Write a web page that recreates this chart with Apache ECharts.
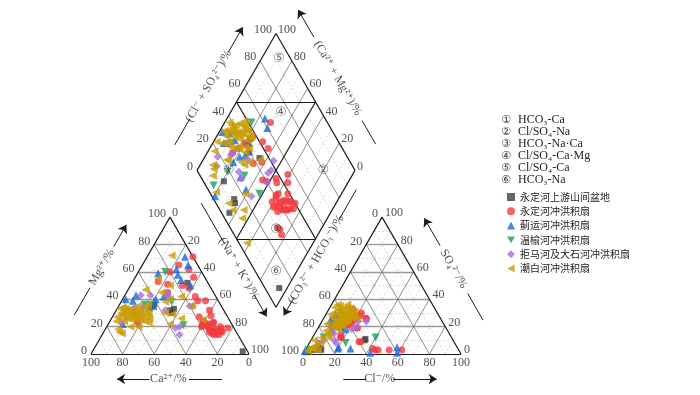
<!DOCTYPE html>
<html><head><meta charset="utf-8">
<script src="https://cdn.jsdelivr.net/npm/echarts@6/dist/echarts.min.js"></script>
<style>html,body{margin:0;padding:0;background:#fff}#c{width:700px;height:395px}</style>
</head><body><div id="c"></div>
<script>
// Each sample: [Mg2+ %, (Na+ + K+) %, SO4 2- %, Cl- %]  (Ca2+ and HCO3- are the remainders to 100)
const yongdingUpstream = [[52,35,10,34],[32,34,3,10],[33,36,5,7],[35,21,4,9],[30,36,2,3],[2,95,3,6],[36,22,11,34]];
const yongdingFan = [
 [17,68,24,18],[16,70,27,20],[18,66,20,16],[15,72,24,19],[14,74,28,22],[19,65,23,19],[17,71,27,21],[16,67,22,17],[18,73,25,20],[15,69,22,18],
 [14,71,24,18],[19,68,26,20],[20,64,22,18],[16,75,26,21],[23,66,25,19],[24,59,20,16],[22,62,20,15],[21,60,22,18],[22,63,21,16],
 [19,77,12,18],[17,74,14,17],[20,72,12,18],
 [71,29,3,61],[65,23,33,15],[62,31,30,22],[56,37,26,27],[48,38,19,25],[50,33,25,13],[39,48,9,31],[39,53,3,44],[32,59,3,53],[27,55,4,42],
 [24,59,9,32],[23,66,3,46],[23,18,26,8],[53,16,20,9],[51,23,27,14],[45,26,24,15],[60,20,28,12],[42,45,21,17],[28,62,26,27],[20,60,19,24]];
const jiyunFan = [[71,24,5,57],[65,29,1,59],[62,23,1,42],[59,13,29,6],[43,7,20,14],[39,7,18,9],[34,20,17,9],[54,30,5,20],[40,21,2,0],
 [50,38,4,20],[35,22,4,28],[42,25,18,18],[40,2,25,5],[22,9,22,7],[58,26,32,8]];
const wenyuFan = [[60,17,12,40],[21,48,8,23],[36,16,3,2],[38,32,20,8],[36,20,12,7],[30,12,22,10]];
const jumaDashiFan = [[23,8,10,8],[43,10,20,10],[34,11,8,6],[35,45,24,28],[35,47,24,23],[20,46,20,24],[42,28,22,14],[32,31,10,15],
 [19,44,8,17],[14,49,18,22],[43,16,15,12],[43,27,16,10],[34,16,20,8]];
const chaobaiFan = [
 [34,3,30,8],[33,5,32,6],[31,7,28,10],[30,9,26,12],[29,11,25,11],[28,13,27,13],[27,15,24,14],[26,17,22,12],[25,19,20,15],[24,22,23,16],
 [23,25,18,13],[32,10,30,14],[30,14,33,9],[28,8,29,7],[27,6,26,9],[29,16,31,12],[31,12,34,11],[26,10,21,10],[25,13,19,11],[33,8,35,6],
 [30,4,27,5],[28,18,24,10],[27,21,28,15],[32,15,32,8],[35,12,36,4],[29,6,23,8],[26,24,25,12],[24,9,20,8],[31,20,29,16],[34,17,33,13],
 [36,18,30,17],[47,11,28,10],[45,22,32,14],[42,36,26,18],[40,30,22,14],[72,15,36,10],[55,15,30,12],[50,25,25,16],[38,28,20,12],
 [16,10,3,8],[15,12,4,4],[20,20,2,2],[29,37,4,4],[26,44,8,7],[25,58,3,2],[30,32,5,3],[22,39,12,10],[35,46,6,5],[24,4,12,6],[18,8,10,2],
 [33,2,15,8],[20,15,14,9],[30,10,34,3],[28,12,31,17],[26,14,26,21],[32,6,22,4],[29,22,27,19],[27,3,29,3],[31,16,17,6]];
const tickValues = [0,20,40,60,80,100];
const regionMarks = ['①','②','③','④','⑤','⑥'];
const regionNames = ['HCO₃-Ca','Cl/SO₄-Na','HCO₃-Na·Ca','Cl/SO₄-Ca·Mg','Cl/SO₄-Ca','HCO₃-Na'];
const seriesNames = ['永定河上游山间盆地','永定河冲洪积扇','蓟运河冲洪积扇','温榆河冲洪积扇','拒马河及大石河冲洪积扇','潮白河冲洪积扇'];

const H = Math.sqrt(3)/2, G = 0.342, PX = 158;
const cat = (mg, na) => [na/100 + mg/200, mg/100*H];
const an = (so4, cl) => [1+G + cl/100 + so4/200, so4/100*H];
const B = [1+G/2, G*H];
const dia = (a, b) => [B[0] - a*0.5 + b*0.5, B[1] + (a+b)*H];

const minor=[], majD=[], majH=[], frame=[];
const seg = (arr,p,q) => arr.push({coords:[p,q]});
for (let k=1;k<10;k++){
  const f=k*10, mj=k%2===0;
  seg(mj?majH:minor, cat(f,0), cat(f,100-f));
  seg(mj?majD:minor, cat(0,f), cat(100-f,f));
  seg(mj?majD:minor, cat(0,100-f), cat(100-f,0));
  seg(mj?majH:minor, an(f,0), an(f,100-f));
  seg(mj?majD:minor, an(0,f), an(100-f,f));
  seg(mj?majD:minor, an(0,100-f), an(100-f,0));
  seg(mj?majD:minor, dia(f/100,0), dia(f/100,1));
  seg(mj?majD:minor, dia(0,f/100), dia(1,f/100));
}
const cBL=cat(0,0), cBR=cat(0,100), cT=cat(100,0), aBL=an(0,0), aBR=an(0,100), aT=an(100,0);
const Lv=dia(1,0), Rv=dia(0,1), Tp=dia(1,1), Bt=dia(0,0);
[[cBL,cBR],[cBR,cT],[cT,cBL],[aBL,aBR],[aBR,aT],[aT,aBL],[Lv,Tp],[Tp,Rv],[Rv,Bt],[Bt,Lv],
 [dia(1,0.5),dia(0.5,1)],[dia(0.5,0),dia(0,0.5)],[dia(1,0.5),dia(0,0.5)],[dia(0.5,1),dia(0.5,0)]].forEach(s=>seg(frame,s[0],s[1]));

const serif = '"Liberation Serif","DejaVu Serif",serif';
const lab = (pos, text, o) => ({value: pos, label: Object.assign({show:true, formatter:text, position:'inside', align:'center',
  verticalAlign:'middle', fontFamily:serif, fontSize:12, color:'#222'}, o||{})});
const labels=[];
tickValues.forEach(v=>{
  labels.push(lab(cat(0,100-v), String(v), {offset:[0,9]}));
  labels.push(lab(cat(v,0), String(v), {align:'right', offset:[-4,-3]}));
  labels.push(lab(cat(100-v,v), String(v), {align:'left', offset:[2,-4]}));
  labels.push(lab(an(0,v), String(v), {offset:[0,9]}));
  labels.push(lab(an(100-v,0), String(v), {align:'right', offset:[-4,-3]}));
  labels.push(lab(an(v,100-v), String(v), {align:'left', offset:[3,-4]}));
  labels.push(lab(dia(1,v/100), String(v), {align:'right', offset:[-4,-4]}));
  labels.push(lab(dia(v/100,1), String(v), {align:'left', offset:[2,-4]}));
});
const regionPos = [[0.8,0.2],[0.2,0.8],[0.285,0.285],[0.68,0.74],[0.89,0.93],[0.13,0.13]];
regionPos.forEach((p,i)=>labels.push(lab(dia(p[0],p[1]), regionMarks[i], {fontFamily:'"DejaVu Sans"', fontSize:13, color:'#444'})));

const titles = [
 [cBL,cT,[-H,0.5],34,[[0.16,0.36,0],[0.66,0.82,1]],0.51,60,'Mg²⁺/%'],
 [cBL,cBR,[0,-1],25,[[0.62,0.83,0],[0.37,0.165,1]],0.49,0,'Ca²⁺/%'],
 [cT,cBR,[H,0.5],34,[[0.02,0.32,0],[0.69,0.85,1]],0.50,-60,'(Na⁺ + K⁺)/%'],
 [aBL,aT,[-H,0.5],36,[[0.28,0.15,1],[0.85,1.07,0]],0.56,60,'(CO₃²⁻ + HCO₃⁻)/%'],
 [aBL,aBR,[0,-1],25,[[0.255,0.40,0],[0.57,0.846,1]],0.485,0,'Cl⁻/%'],
 [aBR,aT,[H,0.5],36,[[0.116,0.31,0],[0.66,0.86,1]],0.49,-60,'SO₄²⁻/%'],
 [Lv,Tp,[-H,0.5],32,[[0.07,0.26,0],[0.75,0.93,1]],0.50,60,'(Cl⁻ + SO₄²⁻)/%'],
 [Rv,Tp,[H,0.5],31,[[0.08,0.25,0],[0.86,1.06,1]],0.56,-60,'(Ca²⁺ + Mg²⁺)/%']
];
const along = (P0,P1,n,d,t) => [P0[0]+t*(P1[0]-P0[0])+n[0]*d/PX, P0[1]+t*(P1[1]-P0[1])+n[1]*d/PX];
const plainSegs=[], arrowSegs=[];
titles.forEach(([P0,P1,n,d,segs,tt,rot,txt])=>{
  segs.forEach(([t0,t1,ar])=>seg(ar?arrowSegs:plainSegs, along(P0,P1,n,d,t0), along(P0,P1,n,d,t1)));
  labels.push(lab(along(P0,P1,n,d,tt), txt, {rotate:rot}));
});

const groups = [
 {data:yongdingUpstream, symbol:'rect', size:6, color:'#404040'},
 {data:yongdingFan, symbol:'circle', size:7, color:'#f23a3f'},
 {data:jiyunFan, symbol:'triangle', size:8, color:'#1c68d8'},
 {data:wenyuFan, symbol:'path://M0,0L10,0L5,8.66Z', size:8, color:'#1f9e57'},
 {data:jumaDashiFan, symbol:'diamond', size:8, color:'#a66fe2'},
 {data:chaobaiFan, symbol:'path://M0,5L9,0L9,10Z', size:8, color:'#c99c00'}
];
const lineSer = (data, style, z, extra) => Object.assign({type:'lines', coordinateSystem:'cartesian2d', polyline:false, silent:true,
  data, lineStyle:Object.assign({opacity:1},style), z, symbol:'none'}, extra||{});

const chart = echarts.init(document.getElementById('c'), null, {renderer:'canvas'});
chart.setOption({
  animation:false,
  grid:{left:0,right:0,top:0,bottom:0},
  xAxis:{type:'value', min:-91/PX, max:609/PX, show:false},
  yAxis:{type:'value', min:-41/PX, max:354/PX, show:false},
  legend:{orient:'vertical', left:502, top:187, itemWidth:8, itemHeight:8, itemGap:4.3,
    textStyle:{fontFamily:'"Noto Sans CJK SC"', fontSize:10, color:'#222'},
    data: seriesNames.map((nm,i)=>({name:nm, icon:groups[i].symbol}))},
  graphic: regionNames.flatMap((nm,i)=>[
    {type:'text', x:506, y:120+i*12, style:{text:regionMarks[i], font:'11px "DejaVu Sans"', fill:'#333', align:'center', verticalAlign:'middle', textAlign:'center', textVerticalAlign:'middle'}},
    {type:'text', x:518, y:120+i*12, style:{text:nm, font:'12px "Liberation Serif"', fill:'#222', align:'left', verticalAlign:'middle', textAlign:'left', textVerticalAlign:'middle'}}
  ]),
  series: [
    lineSer(minor, {color:'#cfcfcf', width:0.8, type:[2,2]}, 1),
    lineSer(majH, {color:'#9a9a9a', width:1.4}, 1),
    lineSer(majD, {color:'#707070', width:0.8}, 1),
    lineSer(frame, {color:'#1a1a1a', width:1.2}, 2),
    lineSer(plainSegs, {color:'#1a1a1a', width:1}, 2),
    lineSer(arrowSegs, {color:'#1a1a1a', width:1}, 2, {symbol:['none','arrow'], symbolSize:[0,8]}),
    ...groups.map((g,i)=>({type:'scatter', name:seriesNames[i], symbol:g.symbol, symbolSize:g.size, itemStyle:{color:g.color}, z:3, silent:true,
      data: g.data.flatMap(([mg,na,so4,cl])=>[cat(mg,na), an(so4,cl), dia((100-na)/100,(so4+cl)/100)])})),
    {type:'scatter', symbolSize:0.1, itemStyle:{color:'transparent'}, silent:true, z:5, data:labels}
  ]
});
</script></body></html>
